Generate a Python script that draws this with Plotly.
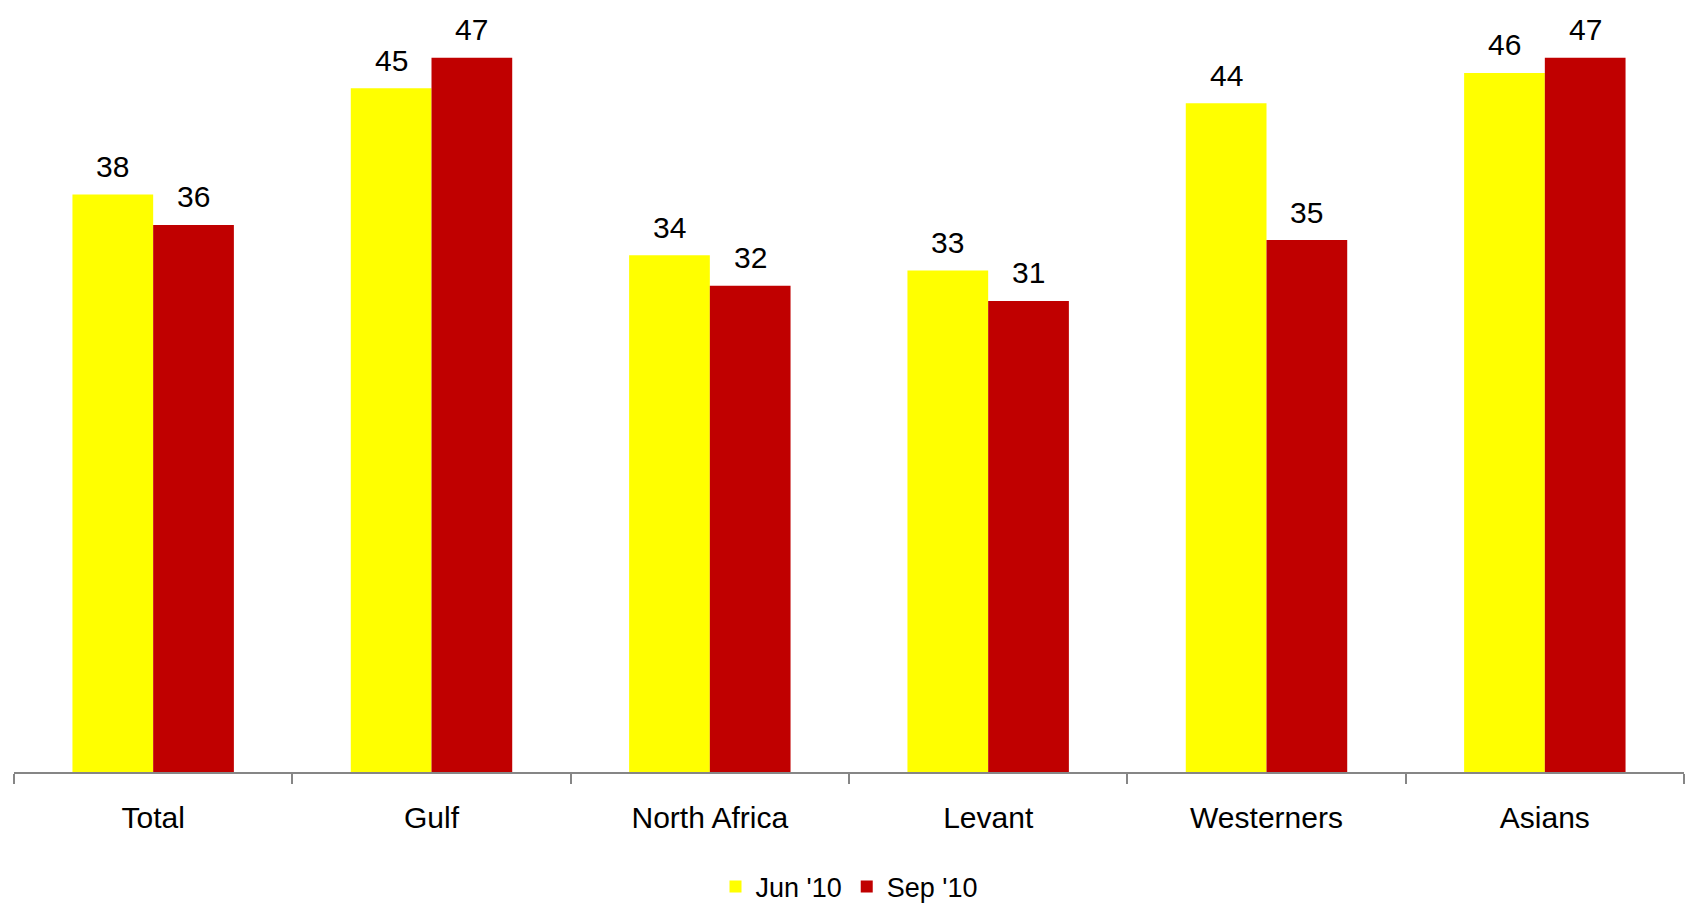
import plotly.graph_objects as go

# Survey results by region, two waves
categories = ["Total", "Gulf", "North Africa", "Levant", "Westerners", "Asians"]
jun_10 = [38, 45, 34, 33, 44, 46]
sep_10 = [36, 47, 32, 31, 35, 47]
series_names = ["Jun '10", "Sep '10"]

YELLOW = "#FFFF00"
RED = "#C00000"
AXIS_GREY = "#868686"
FONT = "Liberation Sans, Arial, sans-serif"

fig = go.Figure()
fig.add_trace(go.Bar(x=categories, y=jun_10, name=series_names[0],
                     marker=dict(color=YELLOW, line=dict(width=0))))
fig.add_trace(go.Bar(x=categories, y=sep_10, name=series_names[1],
                     marker=dict(color=RED, line=dict(width=0))))

# value labels above each bar, shifted onto their bar within the group
half_bar_px = 40.25
annotations = []
for cat, v1, v2 in zip(categories, jun_10, sep_10):
    for val, shift in ((v1, -half_bar_px), (v2, half_bar_px)):
        annotations.append(dict(
            x=cat, y=val, xref="x", yref="y", text=str(val),
            showarrow=False, xanchor="center", yanchor="middle",
            xshift=shift, yshift=28,
            font=dict(family=FONT, size=30, color="black"),
        ))

fig.update_layout(
    width=1687, height=904,
    margin=dict(l=14, r=3, t=0, b=132, autoexpand=False),
    paper_bgcolor="white", plot_bgcolor="white",
    barmode="group", bargap=0.42, bargroupgap=0,
    font=dict(family=FONT, color="black"),
    annotations=annotations,
    showlegend=True,
    legend=dict(orientation="h", x=0.5, xanchor="center",
                y=-0.149, yanchor="middle",
                font=dict(family=FONT, size=27, color="black"),
                bgcolor="rgba(0,0,0,0)"),
    xaxis=dict(
        range=[-0.5, 5.5], showline=True, linecolor=AXIS_GREY, linewidth=2,
        ticks="outside", tickson="boundaries", ticklen=10, tickwidth=2,
        tickcolor=AXIS_GREY, showgrid=False, zeroline=False,
        tickfont=dict(family=FONT, size=30, color="black"),
        ticklabelstandoff=18, automargin=False,
    ),
    yaxis=dict(range=[0, 50.8], visible=False, showgrid=False, zeroline=False),
)

fig.write_html("out.html")
